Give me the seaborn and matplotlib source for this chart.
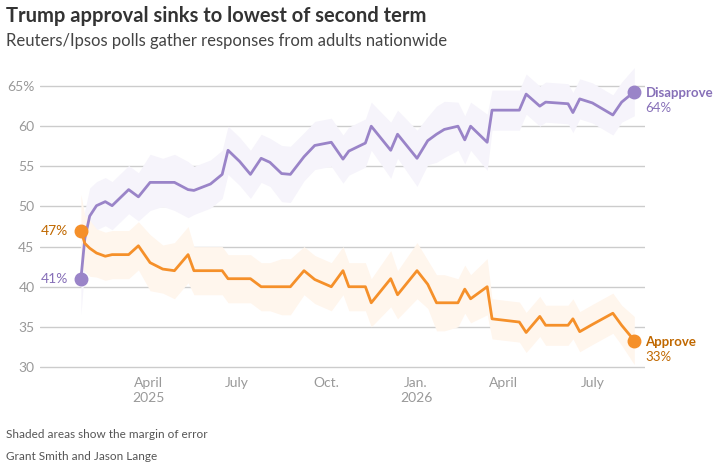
import pandas as pd
import matplotlib.pyplot as plt
import seaborn as sns

# poll dates, approve / disapprove shares and margin of error
poll_dates = [
    "2025-01-22", "2025-01-26", "2025-01-31", "2025-02-07", "2025-02-16", "2025-02-23",
    "2025-03-12", "2025-03-22", "2025-04-03", "2025-04-16", "2025-04-28", "2025-05-12",
    "2025-05-18", "2025-06-04", "2025-06-16", "2025-06-22", "2025-07-04", "2025-07-15",
    "2025-07-26", "2025-08-04", "2025-08-16", "2025-08-25", "2025-09-08", "2025-09-19",
    "2025-10-06", "2025-10-18", "2025-10-24", "2025-11-10", "2025-11-16", "2025-12-06",
    "2025-12-13", "2026-01-02", "2026-01-13", "2026-01-22", "2026-01-30", "2026-02-13",
    "2026-02-20", "2026-02-26", "2026-03-15", "2026-03-20", "2026-04-17", "2026-04-24",
    "2026-05-08", "2026-05-14", "2026-06-06", "2026-06-11", "2026-06-18", "2026-07-01",
    "2026-07-22", "2026-07-31", "2026-08-13",
]
disapprove = [
    41.0, 46.0, 48.8, 50.1, 50.6, 50.1, 52.1, 51.2, 53.0, 53.0, 53.0, 52.1,
    52.0, 52.8, 54.0, 57.0, 55.6, 54.0, 56.0, 55.5, 54.1, 54.0, 56.2, 57.6,
    58.0, 55.9, 56.9, 57.9, 60.0, 57.0, 59.0, 56.0, 58.2, 59.0, 59.6, 60.0,
    58.3, 60.0, 58.0, 62.0, 62.0, 64.0, 62.5, 63.0, 62.8, 61.7, 63.4, 62.9,
    61.4, 63.0, 64.3,
]
approve = [
    47.0, 45.4, 44.8, 44.2, 43.8, 44.0, 44.0, 45.1, 43.0, 42.2, 42.0, 44.0,
    42.0, 42.0, 42.0, 41.0, 41.0, 41.0, 40.0, 40.0, 40.0, 40.0, 42.0, 40.9,
    40.0, 42.0, 40.0, 40.0, 38.0, 41.0, 39.0, 42.0, 40.3, 38.0, 38.0, 38.0,
    39.7, 38.5, 40.0, 36.0, 35.6, 34.3, 36.3, 35.2, 35.2, 36.0, 34.4, 35.3,
    36.7, 35.2, 33.3,
]
margin = [
    4.5, 3.5, 3.5, 3.0, 3.0, 3.0, 3.0, 3.0, 3.5, 3.0, 3.5, 3.5,
    3.0, 3.0, 3.0, 3.0, 3.0, 3.0, 3.0, 3.0, 3.5, 3.5, 3.0, 3.0,
    3.0, 3.0, 3.0, 3.0, 3.0, 3.5, 3.0, 3.5, 3.0, 3.5, 3.5, 3.0,
    3.0, 3.0, 3.5, 2.5, 2.5, 2.5, 2.5, 2.5, 2.5, 2.5, 2.5, 2.5,
    2.5, 2.5, 3.0,
]
y_ticks = [30, 35, 40, 45, 50, 55, 60, 65]
x_ticks = ["2025-04-01", "2025-07-01", "2025-10-01", "2026-01-01", "2026-04-01", "2026-07-01"]
x_labels = ["April\n2025", "July", "Oct.", "Jan.\n2026", "April", "July"]

PURPLE = "#9a84c8"
PURPLE_TXT = "#8770b8"
ORANGE = "#f5902a"
ORANGE_TXT = "#c06800"

df = pd.DataFrame({
    "date": pd.to_datetime(poll_dates),
    "Disapprove": disapprove,
    "Approve": approve,
    "moe": margin,
})

sns.set_style("white")
plt.rcParams["font.family"] = ["Lato", "DejaVu Sans"]

fig = plt.figure(figsize=(7.21, 4.66), dpi=100)
ax = fig.add_axes([40 / 721, 1 - 371 / 466, 605 / 721, 309 / 466])

# margin of error bands
ax.fill_between(df["date"], df["Disapprove"] - df["moe"], df["Disapprove"] + df["moe"],
                color="#f6f4fb", lw=0, zorder=1)
ax.fill_between(df["date"], df["Approve"] - df["moe"], df["Approve"] + df["moe"],
                color="#fff6ed", lw=0, zorder=1)

for col, c in [("Disapprove", PURPLE), ("Approve", ORANGE)]:
    sns.lineplot(data=df, x="date", y=col, color=c, lw=2, ax=ax, zorder=3,
                 solid_joinstyle="round", solid_capstyle="round")

first, last = df.iloc[0], df.iloc[-1]
for col, c in [("Disapprove", PURPLE), ("Approve", ORANGE)]:
    ax.plot([first["date"], last["date"]], [first[col], last[col]], "o", ls="none",
            color=c, ms=9, zorder=4)

ax.set_xlim(pd.Timestamp("2024-12-11"), pd.Timestamp("2026-08-24"))
ax.set_ylim(29.5, 68)
ax.set_yticks(y_ticks)
ax.set_yticklabels([f"{t}%" if t == 65 else str(t) for t in y_ticks])
ax.set_xticks(pd.to_datetime(x_ticks))
ax.set_xticklabels(x_labels, linespacing=1.3)
ax.tick_params(axis="both", length=0, labelsize=10, colors="#999999")
ax.tick_params(axis="y", pad=4)
ax.tick_params(axis="x", pad=4)
ax.set_xlabel("")
ax.set_ylabel("")
for s in ax.spines.values():
    s.set_visible(False)
ax.grid(axis="y", color="#cccccc", lw=1)
ax.grid(axis="x", visible=False)
ax.set_axisbelow(True)

# start labels
ax.annotate(f"{first['Approve']:.0f}%", (first["date"], first["Approve"]), xytext=(-9, 0),
            textcoords="offset points", ha="right", va="center", fontsize=10, color=ORANGE_TXT)
ax.annotate(f"{first['Disapprove']:.0f}%", (first["date"], first["Disapprove"]), xytext=(-9, 0),
            textcoords="offset points", ha="right", va="center", fontsize=10, color=PURPLE_TXT)

# end labels
for col, c in [("Disapprove", PURPLE_TXT), ("Approve", ORANGE_TXT)]:
    ax.annotate(col, (last["date"], last[col]), xytext=(8, -1), textcoords="offset points",
                ha="left", va="center", fontsize=9.5, fontweight="bold", color=c,
                annotation_clip=False)
    ax.annotate(f"{last[col]:.0f}%", (last["date"], last[col]), xytext=(8, -12),
                textcoords="offset points", ha="left", va="center", fontsize=9.5, color=c,
                annotation_clip=False)

fig.text(6 / 721, 1 - 16 / 466, "Trump approval sinks to lowest of second term",
         fontsize=14.5, fontweight="bold", color="#333333", va="center")
fig.text(6 / 721, 1 - 41 / 466, "Reuters/Ipsos polls gather responses from adults nationwide",
         fontsize=12, color="#444444", va="center")
fig.text(6 / 721, 1 - 435 / 466, "Shaded areas show the margin of error",
         fontsize=8.5, color="#555555", va="center")
fig.text(6 / 721, 1 - 457 / 466, "Grant Smith and Jason Lange",
         fontsize=8.5, color="#555555", va="center")

fig.savefig("out.png", dpi=100)
